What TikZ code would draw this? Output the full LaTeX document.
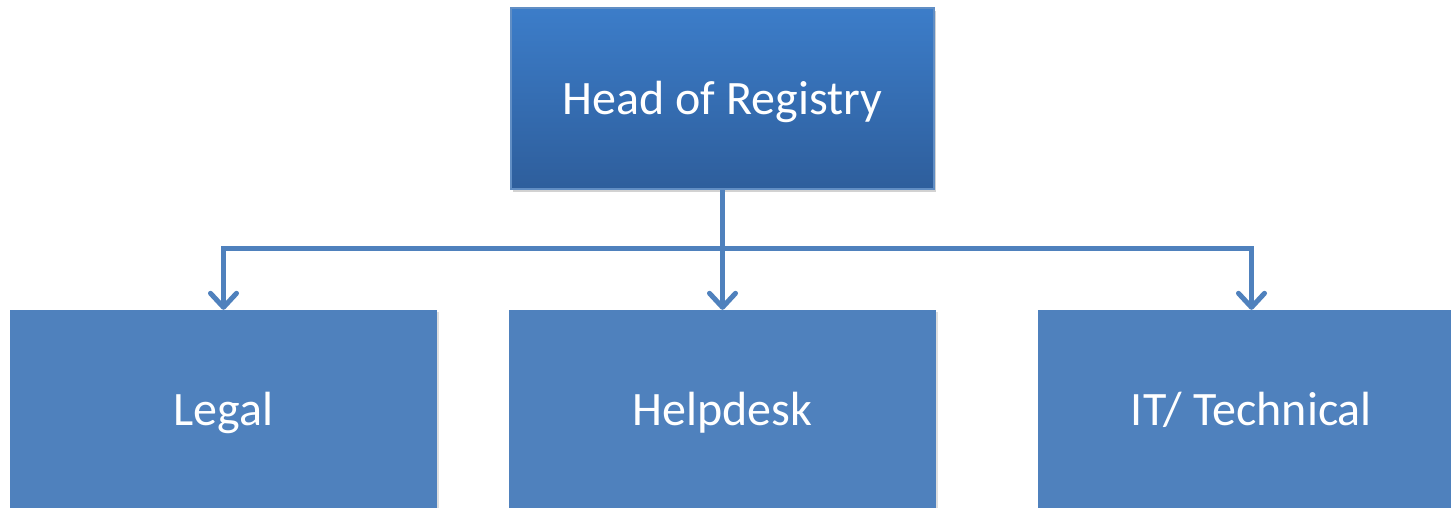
\documentclass[tikz,border=0pt]{standalone}
\usepackage{fontspec}
\setmainfont{Carlito}
\usetikzlibrary{arrows.meta,shadows}
\definecolor{unitblue}{HTML}{4F81BD}
\definecolor{headtop}{HTML}{3C7DC9}
\definecolor{headbot}{HTML}{2E5E9C}
\tikzset{
	head node/.style={rectangle, draw=unitblue!90!white, line width=2pt, top color=headtop, bottom color=headbot, text=white, minimum width=423pt, minimum height=181pt, inner sep=0pt, text height=31pt, text depth=0pt, font=\fontsize{48}{56}\selectfont, drop shadow={opacity=0.35, shadow xshift=2pt, shadow yshift=-3pt}},
	unit node/.style={rectangle, fill=unitblue, text=white, minimum width=427pt, minimum height=200pt, inner sep=0pt, text height=31pt, text depth=0pt, font=\fontsize{48}{56}\selectfont, drop shadow={opacity=0.25, shadow xshift=2pt, shadow yshift=-2pt}},
	link/.style={draw=unitblue, line width=5pt, line join=miter},
	link tip/.style={-{Straight Barb[length=14pt, width=26pt, round]}},
}

\begin{document}
\begin{tikzpicture}[x=1pt, y=1pt]
	\clip (0,0) rectangle (1451,-507);
	\fill[white] (0,0) rectangle (1451,-507);

	% boxes
	\node(head)[head node] at (722.5,-98.5) {Head of Registry};
	\node(legal)[unit node] at (223.5,-410) {Legal};
	\node(help)[unit node] at (722.5,-410) {Helpdesk};
	\node(tech)[unit node] at (1251.5,-410) {IT/ Technical};

	% connectors
	\draw[link] (head.south) -- ++(0,-58) coordinate(hub);
	\draw[link, {Straight Barb[length=14pt, width=26pt, round]}-{Straight Barb[length=14pt, width=26pt, round]}]
		(legal.north) -- (legal.north |- hub) -- (tech.north |- hub) -- (tech.north);
	\draw[link, link tip] (hub) -- (help.north);
\end{tikzpicture}
\end{document}
